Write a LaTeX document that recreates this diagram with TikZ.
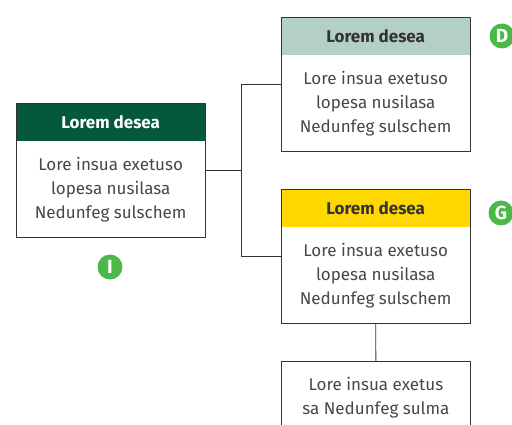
\documentclass[tikz,border=0pt]{standalone}
\usepackage{fontspec}
\setmainfont{Fira Sans}
\usetikzlibrary{calc,positioning}
\definecolor{leadgreen}{HTML}{03593A}
\definecolor{palegreen}{HTML}{B4D0C4}
\definecolor{signyellow}{HTML}{FFD800}
\definecolor{badgegreen}{HTML}{4BB848}
\definecolor{inkgray}{HTML}{333333}
\tikzset{
  card head/.style={minimum width=189pt,minimum height=38pt,
    inner sep=0pt,font=\bfseries\fontsize{17}{20}\selectfont,text=inkgray},
  card body/.style={minimum width=189pt,inner sep=0pt,
    align=center,font=\fontsize{17}{24}\selectfont,text=inkgray!90},
  card link/.style={draw=inkgray,line width=.8pt},
  badge/.style={circle,fill=badgegreen,text=white,inner sep=0pt,minimum size=25pt,
    font=\bfseries\fontsize{19}{19}\selectfont}
}

\begin{document}
\begin{tikzpicture}[x=1pt,y=-1pt,line cap=round,line join=round]
  \useasboundingbox (0,0) rectangle (512,425);
  \clip (0,0) rectangle (512,425);

  % left card
  \node[card head,fill=leadgreen,text=white,anchor=north west] (lhead) at (16,103) {Lorem desea};
  \node[card body,minimum height=96pt,below=0pt of lhead] (lbody)
    {Lore insua exetuso\\lopesa nusilasa\\Nedunfeg sulschem};
  \draw[card link] (lhead.north west) rectangle (lbody.south east);

  % upper right card
  \node[card head,fill=palegreen,anchor=north west] (dhead) at (281,17) {Lorem desea};
  \node[card body,minimum height=96pt,below=0pt of dhead] (dbody)
    {Lore insua exetuso\\lopesa nusilasa\\Nedunfeg sulschem};
  \draw[card link] (dhead.north west) rectangle (dbody.south east);

  % middle right card
  \node[card head,fill=signyellow,anchor=north west] (ghead) at (281,189) {Lorem desea};
  \node[card body,minimum height=96pt,below=0pt of ghead] (gbody)
    {Lore insua exetuso\\lopesa nusilasa\\Nedunfeg sulschem};
  \draw[card link] (ghead.north west) rectangle (gbody.south east);

  % bottom card
  \node[card body,draw=inkgray,line width=.8pt,minimum height=72pt,anchor=north west] (sbody) at (281,361)
    {Lore insua exetus\\sa Nedunfeg sulma};

  % connectors
  \coordinate (lmid) at ($(lhead.north east)!.5!(lbody.south east)$);
  \coordinate (dmid) at ($(dhead.north west)!.5!(dbody.south west)$);
  \coordinate (gmid) at ($(ghead.north west)!.5!(gbody.south west)$);
  \coordinate (fork) at (241,0);
  \draw[card link] (lmid) -- (fork |- lmid)
    (dmid) -- (fork |- dmid) -- (fork |- gmid) -- (gmid);
  \draw[card link] (gbody.south) -- (sbody.north);

  % badges
  \node[badge] (ibadge) at (110,267) {I};
  \node[badge] (dbadge) at (502,36) {D};
  \node[badge] (gbadge) at (501,213) {G};
\end{tikzpicture}
\end{document}
